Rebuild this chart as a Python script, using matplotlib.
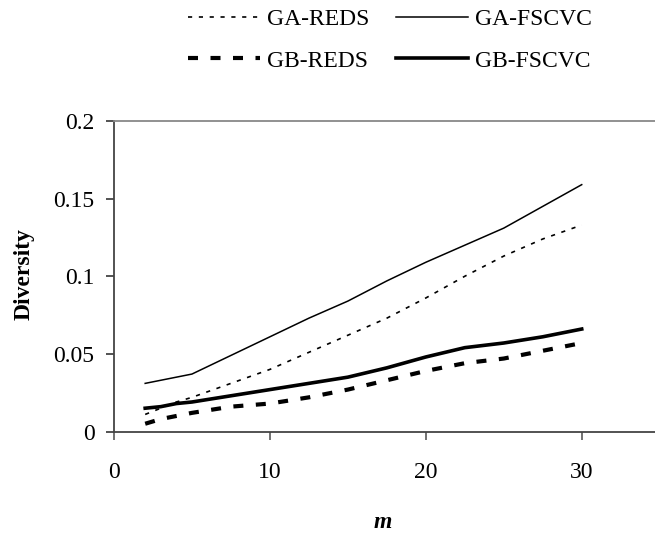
import matplotlib
matplotlib.use('Agg')
import matplotlib.pyplot as plt

plt.rcParams['font.family'] = ['Liberation Serif', 'DejaVu Serif']
plt.rcParams['font.size'] = 17

# values
m = [2, 3, 4, 5, 7.5, 10, 12.5, 15, 17.5, 20, 22.5, 25, 27.5, 30]
ga_reds = [0.011, 0.015, 0.019, 0.022, 0.031, 0.040, 0.051, 0.062, 0.073, 0.086, 0.100, 0.113, 0.124, 0.133]
ga_fscvc = [0.031, 0.033, 0.035, 0.037, 0.049, 0.061, 0.073, 0.084, 0.097, 0.109, 0.120, 0.131, 0.145, 0.159]
gb_reds = [0.005, 0.008, 0.010, 0.012, 0.016, 0.018, 0.022, 0.027, 0.033, 0.039, 0.044, 0.047, 0.052, 0.057]
gb_fscvc = [0.015, 0.016, 0.018, 0.019, 0.023, 0.027, 0.031, 0.035, 0.041, 0.048, 0.054, 0.057, 0.061, 0.066]

x_ticks = [0, 10, 20, 30]
y_ticks = [0, 0.05, 0.1, 0.15, 0.2]
y_tick_labels = ['0', '0.05', '0.1', '0.15', '0.2']

fig = plt.figure(figsize=(6.55, 5.33), dpi=100)
ax = fig.add_axes([114 / 655, 1 - 431.5 / 533, 1 - 114 / 655, (431.5 - 121) / 533])

l1, = ax.plot(m, ga_reds, color='black', lw=1.2, dashes=(2.5, 4), label='GA-REDS')
l2, = ax.plot(m, ga_fscvc, color='black', lw=1.1, label='GA-FSCVC')
l3, = ax.plot(m, gb_reds, color='black', lw=3, dashes=(2.4, 3.0), label='GB-REDS')
l4, = ax.plot(m, gb_fscvc, color='black', lw=2.6, label='GB-FSCVC')

ax.set_xlim(0, 34.7)
ax.set_ylim(0, 0.2)
ax.set_xticks(x_ticks)
ax.set_yticks(y_ticks)
ax.set_yticklabels(y_tick_labels)

ax.spines['right'].set_visible(False)
ax.spines['top'].set_color('#888888')
ax.spines['top'].set_linewidth(1.3)
ax.spines['left'].set_color('#444444')
ax.spines['left'].set_linewidth(1.3)
ax.spines['bottom'].set_color('#444444')
ax.spines['bottom'].set_linewidth(1.3)
ax.tick_params(axis='x', direction='out', length=6, width=1.3, color='#666666', pad=16)
ax.tick_params(axis='y', direction='out', length=6, width=1.3, color='#444444', pad=8)

fig.text(24 / 655, 1 - 274 / 533, 'Diversity', rotation=90, ha='center', va='center',
         fontweight='bold', fontsize=17)
fig.text(383 / 655, 1 - 522 / 533, 'm', ha='center', va='center',
         fontweight='bold', fontstyle='italic', fontsize=17)

# legend fills column by column, so order handles to get GA on the first row
fig.legend(handles=[l1, l3, l2, l4], ncol=2, loc='center',
           bbox_to_anchor=(390 / 655, 1 - 40 / 533), frameon=False,
           handlelength=3.05, handletextpad=0.3, columnspacing=1.1,
           labelspacing=0.85, borderpad=0, borderaxespad=0)

fig.savefig('out.png', dpi=100)
